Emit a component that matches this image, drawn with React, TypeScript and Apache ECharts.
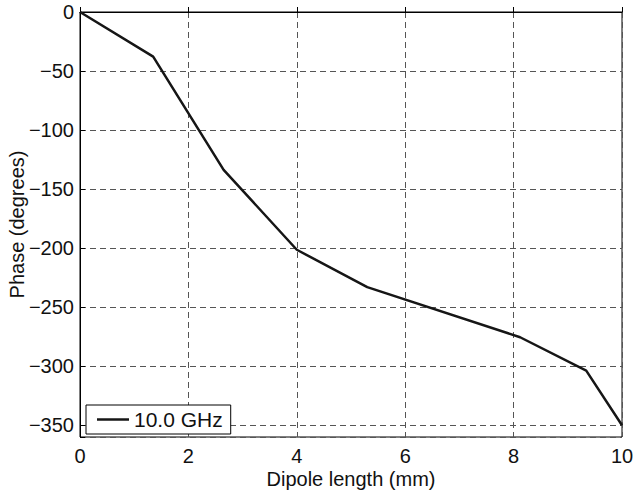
import React, { useEffect, useRef } from "react";
import * as echarts from "echarts";

const seriesName = "10.0 GHz";
const dipoleLength = [0, 1.35, 2.65, 4.0, 5.3, 8.12, 9.34, 10];
const phase = [0, -37.8, -133.7, -201.4, -233, -275.5, -303.8, -350];
const xAxisName = "Dipole length (mm)";
const yAxisName = "Phase (degrees)";

const FONT = "'Liberation Sans', Arial, Helvetica, sans-serif";

export default function App() {
  const ref = useRef<HTMLDivElement>(null);
  useEffect(() => {
    if (!ref.current) return;
    const chart = echarts.init(ref.current, null, { renderer: "svg" });
    const fmt = (v: number) => (v === -360 ? "" : String(v).replace("-", "\u2212"));
    chart.setOption({
      animation: false,
      backgroundColor: "#fff",
      textStyle: { fontFamily: FONT },
      grid: {
        left: 80,
        right: 11,
        top: 12,
        bottom: 59,
        containLabel: false,
        outerBoundsMode: "none",
        show: true,
        borderColor: "#000",
        borderWidth: 1,
        backgroundColor: "transparent",
      },
      legend: {
        left: 86,
        top: 405,
        data: [seriesName],
        icon: "rect",
        itemWidth: 32,
        itemHeight: 2.5,
        padding: [4, 8, 4, 11],
        borderColor: "#000",
        borderWidth: 1,
        backgroundColor: "#fff",
        itemStyle: { color: "#161616" },
        textStyle: { fontSize: 21, color: "#111", fontFamily: FONT },
      },
      xAxis: {
        type: "value",
        min: 0,
        max: 10,
        interval: 2,
        name: xAxisName,
        nameLocation: "middle",
        nameGap: 32,
        nameMoveOverlap: false,
        nameTextStyle: { fontSize: 20, color: "#111", fontFamily: FONT },
        axisLine: { show: true, lineStyle: { color: "#000", width: 1 } },
        axisTick: { show: true, inside: true, length: 5, lineStyle: { color: "#000" } },
        axisLabel: { fontSize: 20, color: "#111", margin: 9, fontFamily: FONT },
        splitLine: {
          show: true,
          lineStyle: { color: "#555", width: 1, type: [6, 4] },
        },
      },
      yAxis: {
        type: "value",
        min: -360,
        max: 0,
        splitNumber: 7,
        name: yAxisName,
        nameLocation: "middle",
        nameGap: 53,
        nameMoveOverlap: false,
        nameTextStyle: { fontSize: 20, color: "#111", fontFamily: FONT },
        axisLine: { show: true, lineStyle: { color: "#000", width: 1 } },
        axisTick: { show: true, inside: true, length: 5, lineStyle: { color: "#000" } },
        axisLabel: { fontSize: 20, color: "#111", margin: 6, formatter: fmt, fontFamily: FONT },
        splitLine: {
          show: true,
          lineStyle: { color: "#555", width: 1, type: [6, 4] },
        },
      },
      series: [
        {
          name: seriesName,
          type: "line",
          data: dipoleLength.map((x, i) => [x, phase[i]]),
          symbol: "none",
          lineStyle: { color: "#161616", width: 2.5 },
          itemStyle: { color: "#161616" },
        },
      ],
    });
    return () => chart.dispose();
  }, []);
  return (
    <div
      ref={ref}
      style={{ position: "absolute", left: 0, top: 0, width: 633, height: 496 }}
    />
  );
}
